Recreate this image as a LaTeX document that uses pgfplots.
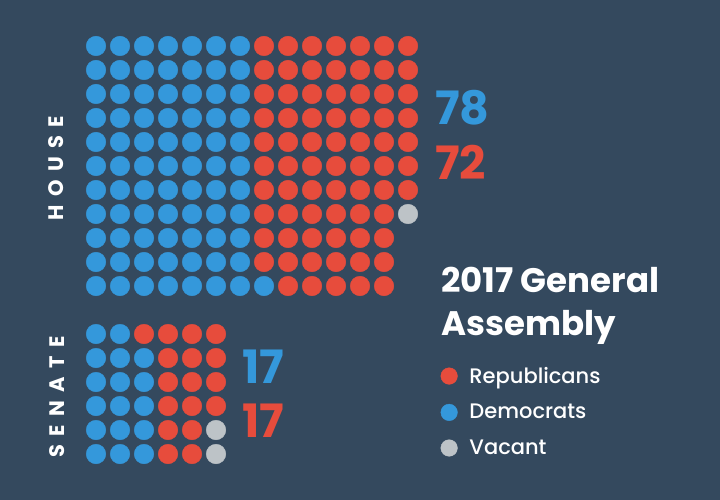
\documentclass[border=0pt]{standalone}
\usepackage{pgfplots}
\pgfplotsset{compat=1.18}
\usepackage{fontspec}
\setmainfont{Poppins}
\newfontfamily\spaced[LetterSpace=40]{Poppins}
\newfontfamily\pmed{Poppins Medium}
\definecolor{bg}{HTML}{34495E}
\definecolor{dem}{HTML}{3498DB}
\definecolor{rep}{HTML}{E74C3C}
\definecolor{vac}{HTML}{BDC3C7}
\pgfplotsset{
  seat/.style={only marks, mark=*, mark size=9.8pt, forget plot, color=#1, mark options={draw=#1, fill=#1}},
  legseat/.style={only marks, mark=*, mark size=8.3pt, color=#1, mark options={draw=#1, fill=#1}},
  house/.style={x filter/.expression={96+24*x}, y filter/.expression={46+24*y}},
  senate/.style={x filter/.expression={96+24*x}, y filter/.expression={334+24*y}},
}
\begin{document}
\begin{tikzpicture}[x=1pt,y=1pt]
\fill[bg] (0,0) rectangle (720,500);
\begin{axis}[
  at={(0,0)}, anchor=south west,
  width=720pt, height=500pt, scale only axis,
  xmin=0, xmax=720, ymin=0, ymax=500, y dir=reverse,
  axis lines=none, ticks=none, clip=false,
  legend style={draw=none, fill=none, text=white, font=\pmed\fontsize{21}{25}\selectfont,
    at={(axis description cs:0.612,0.27)}, anchor=north west,
    row sep=15.5pt, column sep=10pt, inner sep=0pt, nodes={inner sep=2pt}},
  legend cell align=left,
]
% House: column c, row r (row 0 at the top)
\addplot[seat=dem, house] coordinates {
(0,0)(1,0)(2,0)(3,0)(4,0)(5,0)(6,0)
(0,1)(1,1)(2,1)(3,1)(4,1)(5,1)(6,1)
(0,2)(1,2)(2,2)(3,2)(4,2)(5,2)(6,2)
(0,3)(1,3)(2,3)(3,3)(4,3)(5,3)(6,3)
(0,4)(1,4)(2,4)(3,4)(4,4)(5,4)(6,4)
(0,5)(1,5)(2,5)(3,5)(4,5)(5,5)(6,5)
(0,6)(1,6)(2,6)(3,6)(4,6)(5,6)(6,6)
(0,7)(1,7)(2,7)(3,7)(4,7)(5,7)(6,7)
(0,8)(1,8)(2,8)(3,8)(4,8)(5,8)(6,8)
(0,9)(1,9)(2,9)(3,9)(4,9)(5,9)(6,9)
(0,10)(1,10)(2,10)(3,10)(4,10)(5,10)(6,10)(7,10)
};
\addplot[seat=rep, house] coordinates {
(7,0)(8,0)(9,0)(10,0)(11,0)(12,0)(13,0)
(7,1)(8,1)(9,1)(10,1)(11,1)(12,1)(13,1)
(7,2)(8,2)(9,2)(10,2)(11,2)(12,2)(13,2)
(7,3)(8,3)(9,3)(10,3)(11,3)(12,3)(13,3)
(7,4)(8,4)(9,4)(10,4)(11,4)(12,4)(13,4)
(7,5)(8,5)(9,5)(10,5)(11,5)(12,5)(13,5)
(7,6)(8,6)(9,6)(10,6)(11,6)(12,6)(13,6)
(7,7)(8,7)(9,7)(10,7)(11,7)(12,7)
(7,8)(8,8)(9,8)(10,8)(11,8)(12,8)
(7,9)(8,9)(9,9)(10,9)(11,9)(12,9)
(8,10)(9,10)(10,10)(11,10)(12,10)
};
\addplot[seat=vac, house] coordinates {(13,7)};
% Senate
\addplot[seat=dem, senate] coordinates {
(0,0)(1,0)
(0,1)(1,1)(2,1)
(0,2)(1,2)(2,2)
(0,3)(1,3)(2,3)
(0,4)(1,4)(2,4)
(0,5)(1,5)(2,5)
};
\addplot[seat=rep, senate] coordinates {
(2,0)(3,0)(4,0)(5,0)
(3,1)(4,1)(5,1)
(3,2)(4,2)(5,2)
(3,3)(4,3)(5,3)
(3,4)(4,4)
(3,5)(4,5)
};
\addplot[seat=vac, senate] coordinates {(5,4)(5,5)};
% legend
\addlegendimage{legseat=rep}
\addlegendentry{Republicans}
\addlegendimage{legseat=dem}
\addlegendentry{Democrats}
\addlegendimage{legseat=vac}
\addlegendentry{Vacant}
% totals
\node[anchor=west, text=dem, font=\fontsize{46}{46}\selectfont\bfseries, inner sep=0pt] at (axis cs:435,108) {78};
\node[anchor=west, text=rep, font=\fontsize{46}{46}\selectfont\bfseries, inner sep=0pt] at (axis cs:435,162) {72};
\node[anchor=west, text=dem, font=\fontsize{46}{46}\selectfont\bfseries, inner sep=0pt] at (axis cs:242,367) {17};
\node[anchor=west, text=rep, font=\fontsize{46}{46}\selectfont\bfseries, inner sep=0pt] at (axis cs:242,421) {17};
% chamber names
\node[rotate=90, text=white, font=\fontsize{21}{21}\selectfont\spaced\bfseries, inner sep=0pt] at (axis cs:56,168) {HOUSE};
\node[rotate=90, text=white, font=\fontsize{21}{21}\selectfont\spaced\bfseries, inner sep=0pt] at (axis cs:57,397) {SENATE};
% title
\node[anchor=base west, text=white, font=\fontsize{34}{43}\selectfont\bfseries, align=left, inner sep=0pt] at (axis cs:441,335) {2017 General\\Assembly};
\end{axis}
\end{tikzpicture}
\end{document}
